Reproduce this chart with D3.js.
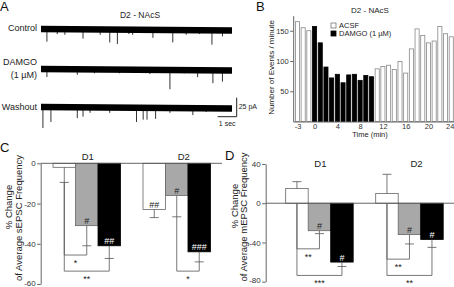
<!DOCTYPE html>
<html>
<head>
<script src="https://cdnjs.cloudflare.com/ajax/libs/d3/7.8.5/d3.min.js"></script>
<style>
  body { margin: 0; background: #fff; }
  svg { font-family: "Liberation Sans", Arial, sans-serif; }
  .axis path, .axis line { stroke: #555; stroke-width: 0.9; }
  .axis text { fill: #333; }
</style>
</head>
<body>
<svg id="fig" width="454" height="287"></svg>
<script>
// ---- panel A : example traces (event times in s, amplitude in pA)
var traceNames = ["Control", "DAMGO", "Washout"];
var controlEvents = [[0.31,16],[0.85,6],[1.25,7],[2.2,12],[3.1,7],[3.6,17],[4.0,19],[4.6,6],[4.8,7],
                     [5.86,11],[6.9,17],[7.6,7],[8.3,6],[8.95,20],[9.5,9]];
var damgoEvents = [[0.31,10],[1.9,7],[2.8,5],[4.1,5],[5.7,6],[6.75,26],[7.5,5],[8.2,10],[9.0,18],[9.5,16]];
var washoutEvents = [[0.1,27],[0.52,19],[1.9,14],[2.2,12],[2.57,7],[3.6,7],[5.0,19],[5.35,16],[5.55,16],
                     [6.0,15],[6.75,7],[7.95,10],[8.65,6]];

// ---- panel B : events per minute
var minutes = [-3,-2,-1,0,1,2,3,4,5,6,7,8,9,10,11,12,13,14,15,16,17,18,19,20,21,22,23,24];
var eventsPerMin = [165,155,150,157,130,90,72,78,64,77,78,68,76,74,
                    87,91,93,86,99,80,120,153,142,130,133,157,145,140];
var damgoMinutes = [0,1,2,3,4,5,6,7,8,9,10];
var bTicks = [-3,0,4,8,12,16,20,24];

// ---- panels C / D : % change, three conditions per group
var groups = ["D1", "D2"];
var sEPSC = [[-2,-31,-41],[-23,-16,-44]];
var sEPSCerr = [[7.5,10,6.3],[4,10.6,5]];
var sEPSChash = [["","#","##"],["##","#","###"]];
var sEPSCsig = [[[0,1,-45.6,"*"],[0,2,-53.6,"**"]],[[1,2,-53.6,"*"]]];

var mEPSC = [[15,-28,-60],[10,-32,-37]];
var mEPSCerr = [[7,3,4.5],[19.5,9.5,8]];
var mEPSChash = [["","#","#"],["","#","#"]];
var mEPSCsig = [[[0,1,-46.5,"**"],[0,2,-73.6,"***"]],[[0,1,-57,"**"],[0,2,-73.6,"**"]]];

var barFill = ["#fff", "#a8a8a8", "#000"];
var hashFill = ["#222", "#222", "#fff"];

var svg = d3.select("#fig");

function letter(t, x, y) {
  svg.append("text").attr("x", x).attr("y", y).attr("font-size", 13).attr("fill", "#111").text(t);
}

// ================= A
letter("A", 0, 11);
svg.append("text").attr("x", 140).attr("y", 17.5).attr("text-anchor", "middle")
  .attr("font-size", 8.5).attr("fill", "#222").text("D2 - NAcS");

var tx = d3.scaleLinear().domain([0, 10]).range([41, 232]);
var amp = d3.scaleLinear().domain([0, 25]).range([0, 19]);
var traceY = [29.5, 69.5, 107.5];
var traceEvents = [controlEvents, damgoEvents, washoutEvents];

traceNames.forEach(function(name, i) {
  var y0 = traceY[i];
  var g = svg.append("g");
  g.selectAll("line.ev").data(traceEvents[i]).enter().append("line")
    .attr("x1", function(d) { return tx(d[0]); })
    .attr("x2", function(d) { return tx(d[0]); })
    .attr("y1", y0)
    .attr("y2", function(d) { return y0 + amp(d[1]); })
    .attr("stroke", "#333").attr("stroke-width", 1);
  g.append("line").attr("x1", tx(0)).attr("x2", tx(10)).attr("y1", y0 - 0.5).attr("y2", y0 + 1)
    .attr("stroke", "#000").attr("stroke-width", 6.5);
});
svg.append("text").attr("x", 37).attr("y", 31).attr("text-anchor", "end").attr("font-size", 9).attr("fill", "#222").text("Control");
svg.append("text").attr("x", 37).attr("y", 65).attr("text-anchor", "end").attr("font-size", 9).attr("fill", "#222").text("DAMGO");
svg.append("text").attr("x", 37).attr("y", 78).attr("text-anchor", "end").attr("font-size", 9).attr("fill", "#222").text("(1 \u00b5M)");
svg.append("text").attr("x", 37).attr("y", 110).attr("text-anchor", "end").attr("font-size", 9).attr("fill", "#222").text("Washout");

// scale bar: 1 sec, 25 pA
var sbx = tx(10) + 4.7, sby = 116.7;
svg.append("path")
  .attr("d", "M" + (sbx - (tx(1) - tx(0))) + "," + sby + "H" + sbx + "V" + (sby - amp(25)))
  .attr("fill", "none").attr("stroke", "#222").attr("stroke-width", 1);
svg.append("text").attr("x", sbx + 2).attr("y", 109).attr("font-size", 7).attr("fill", "#222").text("25 pA");
svg.append("text").attr("x", sbx - 9.5).attr("y", 126).attr("text-anchor", "middle").attr("font-size", 7).attr("fill", "#222").text("1 sec");

// ================= B
letter("B", 256, 11);
svg.append("text").attr("x", 370).attr("y", 12.5).attr("text-anchor", "middle")
  .attr("font-size", 8).attr("fill", "#222").text("D2 - NAcS");

var xB = d3.scaleLinear().domain([-3.75, 24.5]).range([293.2, 454.1]);
var yB = d3.scaleLinear().domain([0, 175]).range([121.5, 15.6]);
var bw = 4.1;

svg.append("g").selectAll("rect").data(minutes).enter().append("rect")
  .attr("x", function(d) { return xB(d) - bw / 2; })
  .attr("y", function(d, i) { return yB(eventsPerMin[i]); })
  .attr("width", bw)
  .attr("height", function(d, i) { return yB(0) - yB(eventsPerMin[i]); })
  .attr("fill", function(d) { return damgoMinutes.indexOf(d) >= 0 ? "#000" : "#fff"; })
  .attr("stroke", function(d) { return damgoMinutes.indexOf(d) >= 0 ? "#000" : "#888"; })
  .attr("stroke-width", 0.8);

svg.append("g").attr("class", "axis").attr("transform", "translate(" + xB(-3.75) + ",0)")
  .call(d3.axisLeft(yB).tickValues([50, 100, 150]).tickSize(3).tickSizeOuter(0).tickPadding(1.5))
  .selectAll("text").attr("font-size", 7.5).attr("font-family", null);
svg.append("g").attr("class", "axis").attr("transform", "translate(0," + yB(0) + ")")
  .call(d3.axisBottom(xB).tickValues(bTicks).tickSize(0).tickSizeOuter(0).tickPadding(2).tickFormat(function(d) { return String(d); }))
  .selectAll("text").attr("font-size", 7.5).attr("font-family", null)
  .attr("dx", function(d) { return d === 24 ? -1.5 : 0; });

svg.append("text").attr("transform", "translate(274,67.5) rotate(-90)").attr("text-anchor", "middle")
  .attr("font-size", 8).attr("fill", "#222").text("Number of Events / minute");
svg.append("text").attr("x", 370).attr("y", 136.8).attr("text-anchor", "middle")
  .attr("font-size", 7.5).attr("fill", "#222").text("Time (min)");

// legend
var legend = [["ACSF", "#fff", "#777"], ["DAMGO (1 \u00b5M)", "#000", "#000"]];
legend.forEach(function(l, i) {
  svg.append("rect").attr("x", 331).attr("y", 23 + i * 8).attr("width", 5).attr("height", 5)
    .attr("fill", l[1]).attr("stroke", l[2]).attr("stroke-width", 0.8);
  svg.append("text").attr("x", 339).attr("y", 28 + i * 8).attr("font-size", 7.5).attr("fill", "#222").text(l[0]);
});

// ================= C / D
function barPanel(opt) {
  var y = d3.scaleLinear().domain(opt.domain).range(opt.range);
  var xg = d3.scaleBand().domain(groups).range([opt.x0, opt.x1]).paddingInner(0.25).paddingOuter(opt.padOuter);
  var xc = d3.scaleBand().domain([0, 1, 2]).range([0, xg.bandwidth()]);
  var cap = 4.5;

  svg.append("g").attr("class", "axis").attr("transform", "translate(" + opt.x0 + ",0)")
    .call(d3.axisLeft(y).tickValues(opt.ticks).tickSize(3.5).tickSizeOuter(0).tickPadding(1.5)
      .tickFormat(function(d) { return String(d); }))
    .selectAll("text").attr("font-size", 8).attr("font-family", null)
    .attr("dy", function(d) { return d === opt.domain[0] ? "0.15em" : "0.32em"; });

  groups.forEach(function(gname, gi) {
    var vals = opt.values[gi], errs = opt.errors[gi];
    var g = svg.append("g").attr("transform", "translate(" + xg(gname) + ",0)");
    var cx = function(i) { return xc(i) + xc.bandwidth() / 2; };
    var errEnd = function(i) { return vals[i] < 0 ? vals[i] - errs[i] : vals[i] + errs[i]; };

    // significance brackets (behind bars)
    opt.sig[gi].forEach(function(s) {
      var a = s[0], b = s[1], yy = y(s[2]);
      var ya = vals[a] < 0 ? y(errEnd(a)) : y(0);
      var yb = vals[b] < 0 ? y(errEnd(b)) : y(0);
      g.append("path").attr("d", "M" + cx(a) + "," + ya + "V" + yy + "H" + cx(b) + "V" + yb)
        .attr("fill", "none").attr("stroke", "#555").attr("stroke-width", 0.8);
      g.append("text").attr("x", (cx(a) + cx(b)) / 2).attr("y", yy + 11).attr("text-anchor", "middle")
        .attr("font-size", 9).attr("fill", "#222").text(s[3]);
    });

    g.selectAll("rect").data(vals).enter().append("rect")
      .attr("x", function(d, i) { return xc(i); })
      .attr("y", function(d) { return y(Math.max(0, d)); })
      .attr("width", xc.bandwidth())
      .attr("height", function(d) { return Math.abs(y(d) - y(0)); })
      .attr("fill", function(d, i) { return barFill[i]; })
      .attr("stroke", function(d, i) { return i === 2 ? "#000" : "#666"; })
      .attr("stroke-width", 0.8);

    vals.forEach(function(v, i) {
      var e = errEnd(i);
      g.append("path").attr("d", "M" + cx(i) + "," + y(v) + "V" + y(e) + "M" + (cx(i) - cap) + "," + y(e) + "H" + (cx(i) + cap))
        .attr("stroke", "#555").attr("stroke-width", 0.8).attr("fill", "none");
      if (opt.hash[gi][i]) {
        g.append("text").attr("x", cx(i)).attr("y", y(v) - 1.5).attr("text-anchor", "middle")
          .attr("font-size", 9).attr("fill", hashFill[i]).text(opt.hash[gi][i]);
      }
    });

    svg.append("text").attr("x", xg(gname) + xg.bandwidth() / 2 + (gi === 0 ? 1 : 7)).attr("y", opt.titleY)
      .attr("text-anchor", "middle").attr("font-size", 9.5).attr("fill", "#222").text(gname);
  });

  // zero line
  svg.append("line").attr("x1", opt.x0).attr("x2", opt.zeroEnd).attr("y1", y(0)).attr("y2", y(0))
    .attr("stroke", "#555").attr("stroke-width", 0.9);

  svg.append("text").attr("transform", "translate(" + opt.labX[0] + "," + opt.labY[0] + ") rotate(-90)")
    .attr("text-anchor", "middle").attr("font-size", 9.5).attr("fill", "#222").text("% Change");
  svg.append("text").attr("transform", "translate(" + opt.labX[1] + "," + opt.labY[1] + ") rotate(-90)")
    .attr("text-anchor", "middle").attr("font-size", 9.5).attr("fill", "#222").text(opt.label);
}

letter("C", 0, 152);
barPanel({
  domain: [-60, 0], range: [284, 163.3], ticks: [0, -20, -40, -60],
  x0: 40.7, x1: 222.8, padOuter: 0.137, zeroEnd: 222,
  values: sEPSC, errors: sEPSCerr, hash: sEPSChash, sig: sEPSCsig,
  titleY: 160, labX: [12, 22], labY: [207, 218], label: "of Average sEPSC Frequency"
});

letter("D", 225, 159.5);
barPanel({
  domain: [-80, 40], range: [281.7, 164], ticks: [40, 0, -40, -80],
  x0: 265.7, x1: 463.2, padOuter: 0.222, zeroEnd: 454,
  values: mEPSC, errors: mEPSCerr, hash: mEPSChash, sig: mEPSCsig,
  titleY: 167, labX: [238, 247], labY: [206, 217], label: "of Average mEPSC Frequency"
});
</script>
</body>
</html>
